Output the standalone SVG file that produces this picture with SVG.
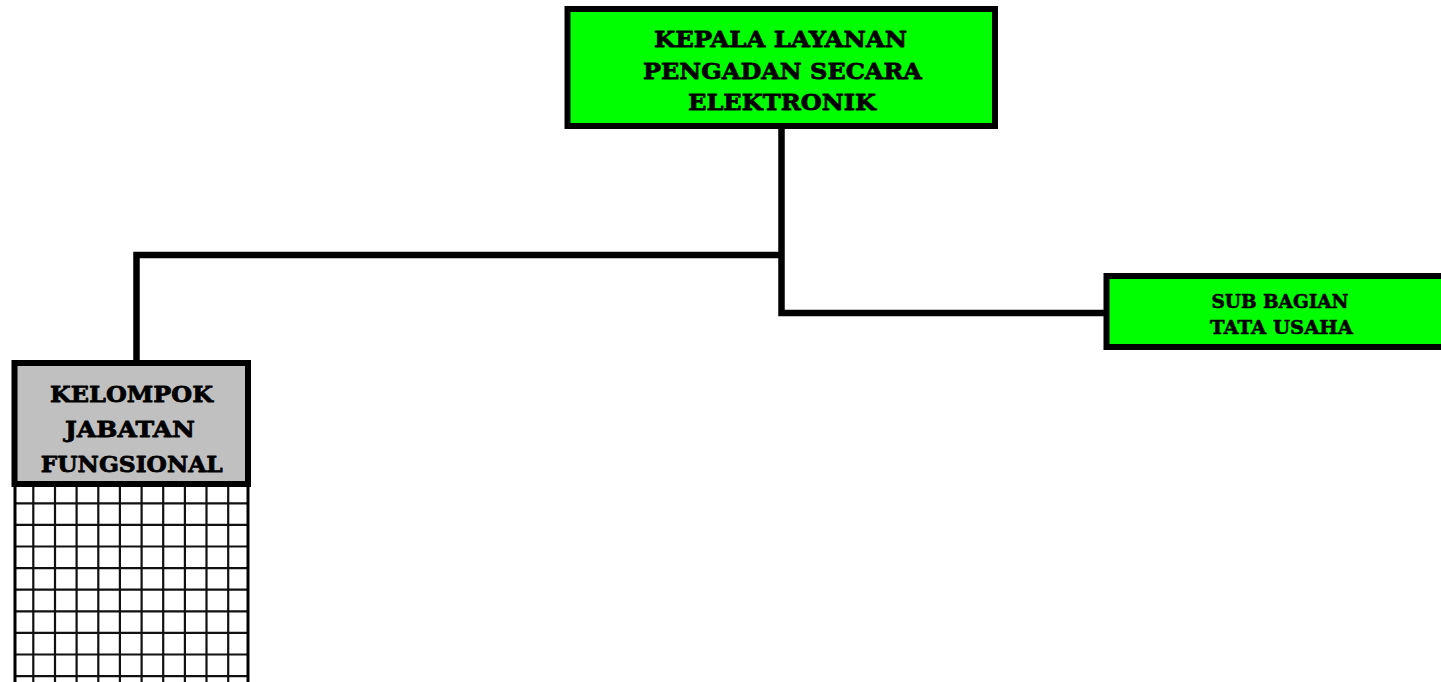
<svg xmlns="http://www.w3.org/2000/svg" width="1441" height="682" viewBox="0 0 1441 682">
  <style>
    .box { stroke: #000; stroke-width: 6; stroke-linejoin: miter; }
    .green { fill: #00ff00; }
    .grey { fill: #c0c0c0; }
    .lbl { font-family: "DejaVu Serif", "Liberation Serif", serif; font-weight: bold; fill: #000; stroke: #000; stroke-width: 0.8; stroke-linejoin: round; text-anchor: middle; }
    .big { font-size: 23px; }
    .small { font-size: 18px; stroke-width: 0.6; }
    .wire { fill: none; stroke: #000; stroke-width: 6.5; stroke-linejoin: miter; stroke-linecap: butt; }
    .grid { fill: none; stroke: #111; stroke-width: 2.2; }
  </style>

  <rect width="1441" height="682" fill="#fff"/>

  <!-- connectors -->
  <g id="connectors">
    <path class="wire" d="M781.5 129 V313 H1106"/>
    <path class="wire" d="M781.5 255 H136.5 V360"/>
  </g>

  <!-- head of the unit -->
  <g id="kepala">
    <rect class="box green" x="567.5" y="9" width="427.5" height="117"/>
    <text class="lbl big" x="780.5" y="47" textLength="253" lengthAdjust="spacingAndGlyphs">KEPALA LAYANAN</text>
    <text class="lbl big" x="782.5" y="78.5" textLength="279" lengthAdjust="spacingAndGlyphs">PENGADAN SECARA</text>
    <text class="lbl big" x="782" y="110" textLength="188" lengthAdjust="spacingAndGlyphs">ELEKTRONIK</text>
  </g>

  <!-- administration sub-section -->
  <g id="sub-bagian">
    <rect class="box green" x="1106.5" y="276" width="350" height="71"/>
    <text class="lbl small" x="1280" y="308" textLength="137" lengthAdjust="spacingAndGlyphs">SUB BAGIAN</text>
    <text class="lbl small" x="1281.5" y="334" textLength="143" lengthAdjust="spacingAndGlyphs">TATA USAHA</text>
  </g>

  <!-- functional positions group with its grid -->
  <g id="kelompok">
    <g id="kelompok-grid">
      <rect x="15" y="487" width="233" height="200" fill="#fff"/>
      <path class="grid" d="M33.3 487V682 M55 487V682 M76.6 487V682 M98.3 487V682 M119.9 487V682 M141.6 487V682 M163.2 487V682 M184.9 487V682 M206.5 487V682 M228.2 487V682
                            M15 503.3H248 M15 524.9H248 M15 546.5H248 M15 568.1H248 M15 589.7H248 M15 611.3H248 M15 632.9H248 M15 654.5H248 M15 676.1H248"/>
      <path fill="none" stroke="#000" stroke-width="3" d="M15 487V682 M248 487V682"/>
    </g>
    <rect class="box grey" x="14.5" y="363" width="233.5" height="121"/>
    <text class="lbl big" x="131.5" y="401.5" textLength="163" lengthAdjust="spacingAndGlyphs">KELOMPOK</text>
    <text class="lbl big" x="130" y="437" textLength="130" lengthAdjust="spacingAndGlyphs">JABATAN</text>
    <text class="lbl big" x="131.7" y="471.7" textLength="182" lengthAdjust="spacingAndGlyphs">FUNGSIONAL</text>
  </g>
</svg>
